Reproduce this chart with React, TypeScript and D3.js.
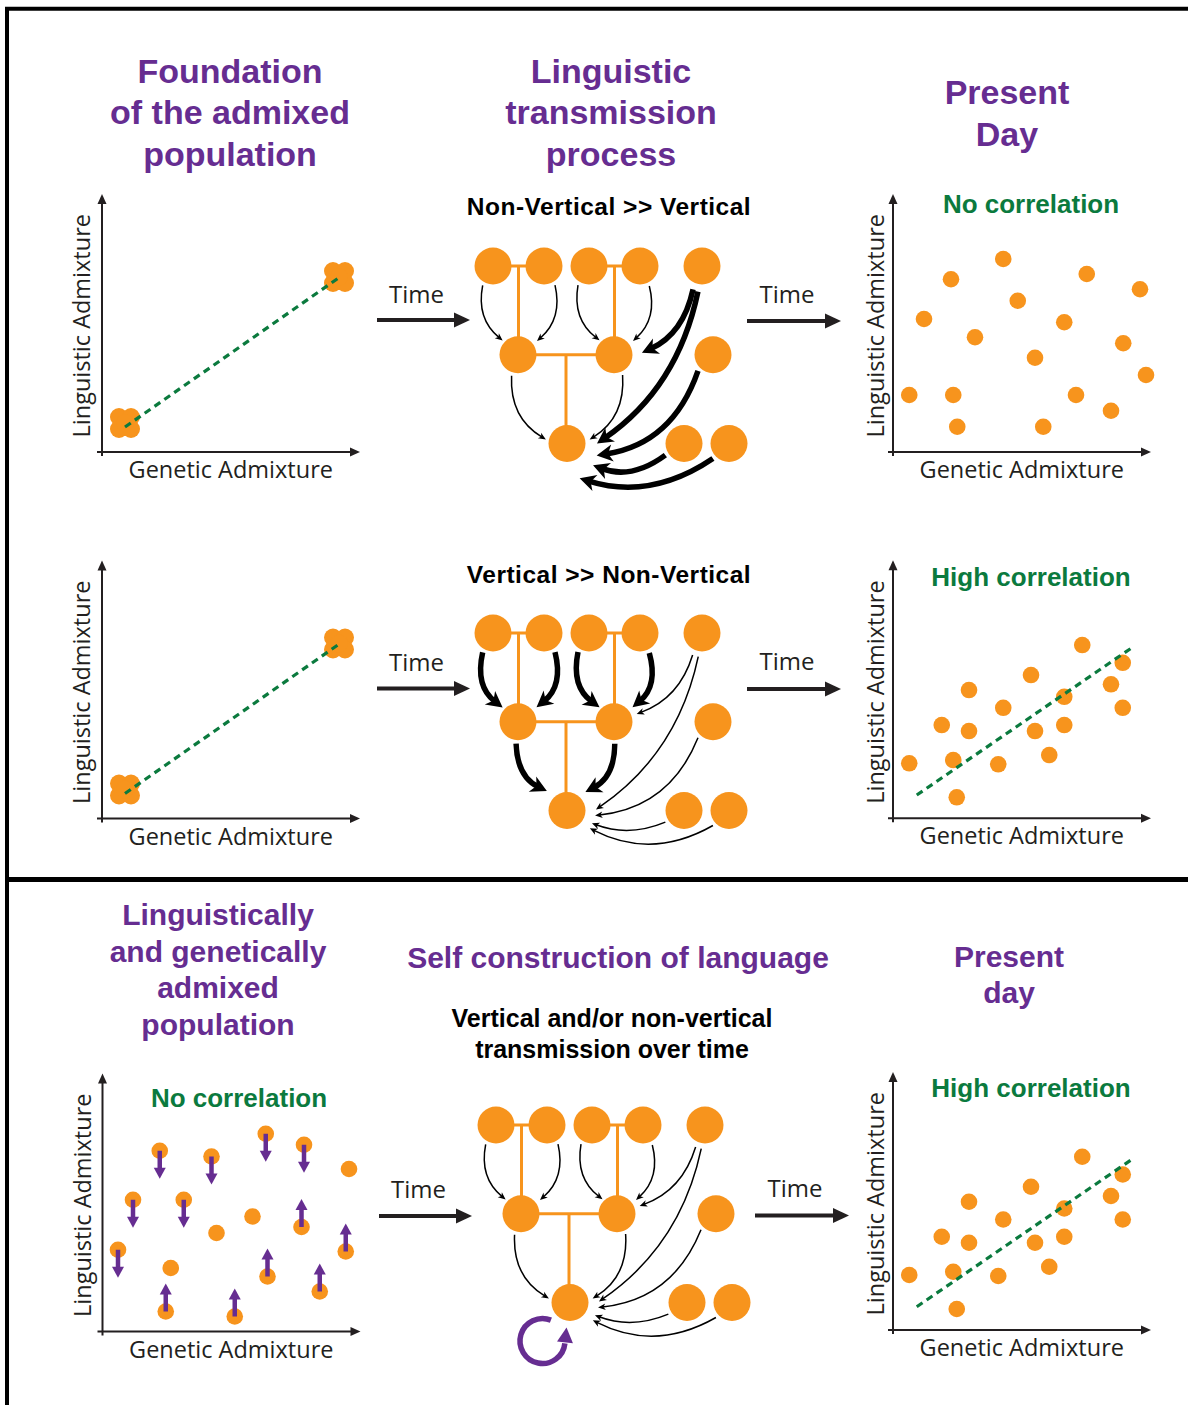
import * as d3 from "d3";

type Pt = { x: number; y: number };
type Shifted = Pt & { shift: number };
type Link = { s: string; t: string; sa: number; ta: number; td: number; bend: number; sd?: number };
type TreeNode = { id: string; gen: number; pos: number };

const ORANGE = "#f7941d";
const PURPLE = "#662d91";
const GREEN = "#0b7a3e";
const INK = "#231f20";
const BOLD = "'Liberation Sans', Arial, Helvetica, sans-serif";
const REG = "'Open Sans', 'Noto Sans', sans-serif";

// ---- scatter data (axis units 0-100) ----
const foundationDots: Pt[] = [
  { x: 6.8, y: 14 }, { x: 11.6, y: 14 }, { x: 6.8, y: 9.2 }, { x: 11.6, y: 9.2 }, { x: 9.2, y: 11.6 },
  { x: 92.4, y: 72.4 }, { x: 97.2, y: 72.4 }, { x: 92.4, y: 67.6 }, { x: 97.2, y: 67.6 }, { x: 94.8, y: 70 },
];
const foundationTrend: Pt[] = [{ x: 9.2, y: 10 }, { x: 95.2, y: 70 }];

const noCorrDots: Pt[] = [
  { x: 6.5, y: 22.8 }, { x: 12.4, y: 53.2 }, { x: 23.2, y: 69.1 }, { x: 24.1, y: 22.8 },
  { x: 25.7, y: 10.1 }, { x: 32.8, y: 45.9 }, { x: 44.1, y: 77.2 }, { x: 49.9, y: 60.5 },
  { x: 56.8, y: 37.7 }, { x: 60.1, y: 10.1 }, { x: 68.5, y: 51.9 }, { x: 73.2, y: 22.8 },
  { x: 77.5, y: 71.2 }, { x: 87.2, y: 16.5 }, { x: 92.1, y: 43.5 }, { x: 98.8, y: 65.1 },
  { x: 101.2, y: 30.8 },
];

const highCorrDots: Pt[] = [
  { x: 6.5, y: 22 }, { x: 19.5, y: 37.3 }, { x: 24.1, y: 23.3 }, { x: 25.5, y: 8.4 },
  { x: 30.4, y: 51.3 }, { x: 30.4, y: 34.9 }, { x: 42.1, y: 21.6 }, { x: 44.1, y: 44.2 },
  { x: 55.2, y: 57.3 }, { x: 56.8, y: 34.9 }, { x: 62.5, y: 25.3 }, { x: 68.5, y: 48.6 },
  { x: 68.5, y: 37.3 }, { x: 75.7, y: 69.3 }, { x: 87.2, y: 53.6 }, { x: 91.9, y: 62.2 },
  { x: 91.9, y: 44.2 },
];
const highTrend: Pt[] = [{ x: 9.5, y: 9.3 }, { x: 95.5, y: 68.2 }];

// shift: -1 moves down, +1 moves up, 0 stays
const selfDots: Shifted[] = [
  { x: 6.2, y: 32.7, shift: -1 }, { x: 12.2, y: 52.7, shift: -1 }, { x: 22.9, y: 72.3, shift: -1 },
  { x: 27.3, y: 25.4, shift: 0 }, { x: 25.3, y: 8, shift: 1 }, { x: 32.5, y: 52.7, shift: -1 },
  { x: 43.6, y: 70, shift: -1 }, { x: 45.6, y: 39.4, shift: 0 }, { x: 52.9, y: 6, shift: 1 },
  { x: 60, y: 46, shift: 0 }, { x: 65.3, y: 79.1, shift: -1 }, { x: 66, y: 22, shift: 1 },
  { x: 79.6, y: 41.8, shift: 1 }, { x: 80.6, y: 74.7, shift: -1 }, { x: 86.9, y: 16, shift: 1 },
  { x: 97.3, y: 32, shift: 1 }, { x: 98.6, y: 65, shift: 0 },
];
const SHIFT = 11.2;

// ---- tree data ----
const treeNodes: TreeNode[] = [
  { id: "p1", gen: 0, pos: 0 }, { id: "p2", gen: 0, pos: 51 }, { id: "p3", gen: 0, pos: 96 },
  { id: "p4", gen: 0, pos: 147 }, { id: "p5", gen: 0, pos: 209 },
  { id: "c1", gen: 1, pos: 25 }, { id: "c2", gen: 1, pos: 121 }, { id: "c3", gen: 1, pos: 220 },
  { id: "g1", gen: 2, pos: 74 }, { id: "g2", gen: 2, pos: 191 }, { id: "g3", gen: 2, pos: 236 },
];
const families = [
  { parents: ["p1", "p2"], child: "c1" },
  { parents: ["p3", "p4"], child: "c2" },
  { parents: ["c1", "c2"], child: "g1" },
];

const verticalLinks: Link[] = [
  { s: "p1", t: "c1", sa: 118, ta: 223, td: 21, bend: 0.3 },
  { s: "p2", t: "c1", sa: 60, ta: -36, td: 23.5, bend: -0.3 },
  { s: "p3", t: "c2", sa: 120, ta: 225, td: 20.5, bend: 0.3 },
  { s: "p4", t: "c2", sa: 65, ta: -36, td: 23.5, bend: -0.3 },
  { s: "c1", t: "g1", sa: 107, ta: 191, td: 21.5, bend: 0.3 },
  { s: "c2", t: "g1", sa: 67, ta: -10, td: 23, bend: -0.3 },
];
const verticalLinksStrong: Link[] = [
  { s: "p1", t: "c1", sa: 118, ta: 223, td: 21, bend: 0.32 },
  { s: "p2", t: "c1", sa: 60, ta: -38, td: 23.5, bend: -0.32 },
  { s: "p3", t: "c2", sa: 120, ta: 225, td: 20.5, bend: 0.32 },
  { s: "p4", t: "c2", sa: 65, ta: -38, td: 23.5, bend: -0.32 },
  { s: "c1", t: "g1", sa: 95, ta: 224, td: 28, bend: 0.3 },
  { s: "c2", t: "g1", sa: 88, ta: -45, td: 26, bend: -0.3 },
];
const nonVerticalLinks: Link[] = [
  { s: "p5", t: "c2", sa: 113, sd: 24, ta: -19, td: 24, bend: -0.25 },
  { s: "p5", t: "g1", sa: 99, sd: 24, ta: -2, td: 29, bend: -0.2 },
  { s: "c3", t: "g1", sa: 133, ta: 10, td: 28.5, bend: -0.3 },
  { s: "g2", t: "g1", sa: 148, ta: 27, td: 28, bend: -0.2 },
  { s: "g3", t: "g1", sa: 137, ta: 38, td: 29, bend: -0.27 },
];
const nonVerticalLinksStrong: Link[] = [
  { s: "p5", t: "c2", sa: 111, sd: 25, ta: -4, td: 28, bend: -0.25 },
  { s: "p5", t: "g1", sa: 99, sd: 26, ta: 0, td: 30, bend: -0.2 },
  { s: "c3", t: "g1", sa: 133, ta: 22, td: 32, bend: -0.3 },
  { s: "g2", t: "g1", sa: 148, ta: 40, td: 34, bend: -0.27 },
  { s: "g3", t: "g1", sa: 137, ta: 70, td: 37, bend: -0.24 },
];

const NODE_R = 18.5;
const DEG = Math.PI / 180;

function LinkArrow({ l, xy, thick }: { l: Link; xy: Record<string, [number, number]>; thick: boolean }) {
  const s = xy[l.s];
  const t = xy[l.t];
  const sd = l.sd ?? 22;
  const p0 = [s[0] + sd * Math.cos(l.sa * DEG), s[1] + sd * Math.sin(l.sa * DEG)];
  const p2 = [t[0] + l.td * Math.cos(l.ta * DEG), t[1] + l.td * Math.sin(l.ta * DEG)];
  const dx = p2[0] - p0[0];
  const dy = p2[1] - p0[1];
  const c = [(p0[0] + p2[0]) / 2 - dy * l.bend, (p0[1] + p2[1]) / 2 + dx * l.bend];
  let ux = p2[0] - c[0];
  let uy = p2[1] - c[1];
  const ul = Math.hypot(ux, uy);
  ux /= ul;
  uy /= ul;
  const hl = thick ? 16 : 7.5;
  const hw = thick ? 17 : 6.5;
  const end = [p2[0] - ux * hl * 0.6, p2[1] - uy * hl * 0.6];
  const path = d3.path();
  path.moveTo(p0[0], p0[1]);
  path.quadraticCurveTo(c[0], c[1], end[0], end[1]);
  const bx = p2[0] - ux * hl;
  const by = p2[1] - uy * hl;
  const px = -uy;
  const py = ux;
  const head = [
    [p2[0], p2[1]],
    [bx + (px * hw) / 2, by + (py * hw) / 2],
    [p2[0] - ux * hl * 0.72, p2[1] - uy * hl * 0.72],
    [bx - (px * hw) / 2, by - (py * hw) / 2],
  ];
  return (
    <g>
      <path d={path.toString()} fill="none" stroke="#000" strokeWidth={thick ? 5.5 : 1.5} />
      <polygon points={head.map((p) => p.join(",")).join(" ")} fill="#000" />
    </g>
  );
}

function Tree({ x0, y0, links, loop }: { x0: number; y0: number; links: { l: Link; thick: boolean }[]; loop?: boolean }) {
  const x = d3.scaleLinear().domain([0, 236]).range([x0, x0 + 236]);
  const y = d3.scaleLinear().domain([0, 2]).range([y0, y0 + 177.5]);
  const xy: Record<string, [number, number]> = {};
  treeNodes.forEach((n) => (xy[n.id] = [x(n.pos), y(n.gen)]));

  let loopEl = null;
  if (loop) {
    const g = xy["g1"];
    const cx = g[0] - 27.5;
    const cy = g[1] + 38.5;
    const r = 22.5;
    const a0 = -68 * DEG;
    const a1 = -354 * DEG;
    const p = d3.path();
    p.arc(cx, cy, r, a0, a1, true);
    const ex = cx + r * Math.cos(a1);
    const ey = cy + r * Math.sin(a1);
    const ux = Math.sin(a1);
    const uy = -Math.cos(a1);
    const tipX = ex + ux * 16;
    const tipY = ey + uy * 16;
    const bx = ex + ux * 1;
    const by = ey + uy * 1;
    loopEl = (
      <g>
        <path d={p.toString()} fill="none" stroke={PURPLE} strokeWidth={5.5} />
        <polygon
          points={`${tipX},${tipY} ${bx - uy * 8},${by + ux * 8} ${bx + uy * 8},${by - ux * 8}`}
          fill={PURPLE}
        />
      </g>
    );
  }

  return (
    <g>
      {families.map((f, i) => {
        const a = xy[f.parents[0]];
        const b = xy[f.parents[1]];
        const ch = xy[f.child];
        const mx = (a[0] + b[0]) / 2;
        return (
          <g key={i} stroke={ORANGE} strokeWidth={3} fill="none">
            <line x1={a[0]} y1={a[1]} x2={b[0]} y2={b[1]} />
            <line x1={mx} y1={a[1]} x2={mx} y2={ch[1]} />
          </g>
        );
      })}
      {links.map((d, i) => (
        <LinkArrow key={i} l={d.l} xy={xy} thick={d.thick} />
      ))}
      {treeNodes.map((n) => (
        <circle key={n.id} cx={xy[n.id][0]} cy={xy[n.id][1]} r={NODE_R} fill={ORANGE} />
      ))}
      {loopEl}
    </g>
  );
}

function Scatter({
  ox,
  oy,
  dots,
  r,
  trend,
  shifted,
  labelDx,
}: {
  ox: number;
  oy: number;
  dots: Pt[];
  r: number;
  trend?: Pt[];
  shifted?: Shifted[];
  labelDx: number;
}) {
  const x = d3.scaleLinear().domain([0, 100]).range([ox, ox + 250]);
  const y = d3.scaleLinear().domain([0, 100]).range([oy, oy - 250]);
  const top = y(103.2);
  const right = x(103.2);
  const line = d3
    .line<Pt>()
    .x((d) => x(d.x))
    .y((d) => y(d.y));
  return (
    <g>
      <line x1={ox} y1={oy + 4} x2={ox} y2={top + 8} stroke={INK} strokeWidth={2} />
      <polygon points={`${ox},${top} ${ox - 4.5},${top + 10} ${ox + 4.5},${top + 10}`} fill={INK} />
      <line x1={ox - 5} y1={oy} x2={right - 8} y2={oy} stroke={INK} strokeWidth={2} />
      <polygon points={`${right},${oy} ${right - 10},${oy - 4.5} ${right - 10},${oy + 4.5}`} fill={INK} />
      <text
        transform={`translate(${ox - labelDx},${y(50.5)}) rotate(-90)`}
        textAnchor="middle"
        fontFamily={REG}
        fontSize={23.5}
        fill={INK}
      >
        Linguistic Admixture
      </text>
      <text x={x(51.5)} y={oy + 26} textAnchor="middle" fontFamily={REG} fontSize={23.5} fill={INK}>
        Genetic Admixture
      </text>
      {dots.map((d, i) => (
        <circle key={i} cx={x(d.x)} cy={y(d.y)} r={r} fill={ORANGE} />
      ))}
      {shifted &&
        shifted.map((d, i) => {
          const cx = x(d.x);
          const cy = y(d.y);
          if (!d.shift) return <circle key={i} cx={cx} cy={cy} r={r} fill={ORANGE} />;
          const ty = y(d.y + d.shift * SHIFT);
          const dir = Math.sign(ty - cy);
          const by = ty - dir * 11;
          return (
            <g key={i}>
              <circle cx={cx} cy={cy} r={r} fill={ORANGE} />
              <line x1={cx} y1={cy} x2={cx} y2={by + dir * 2} stroke={PURPLE} strokeWidth={4.5} />
              <polygon points={`${cx},${ty} ${cx - 6},${by} ${cx + 6},${by}`} fill={PURPLE} />
            </g>
          );
        })}
      {trend && (
        <path d={line(trend) ?? ""} fill="none" stroke={GREEN} strokeWidth={3.2} strokeDasharray="7 5" />
      )}
    </g>
  );
}

function TimeArrow({ x1, x2, y, textY }: { x1: number; x2: number; y: number; textY: number }) {
  return (
    <g>
      <text x={(x1 + x2) / 2 - 7} y={textY} textAnchor="middle" fontFamily={REG} fontSize={24} fill={INK}>
        Time
      </text>
      <line x1={x1} y1={y} x2={x2 - 10} y2={y} stroke={INK} strokeWidth={4} />
      <polygon points={`${x2},${y} ${x2 - 16},${y - 7.5} ${x2 - 16},${y + 7.5}`} fill={INK} />
    </g>
  );
}

function Lines({
  lines,
  x,
  y,
  dy,
  size,
  fill,
}: {
  lines: string[];
  x: number;
  y: number;
  dy: number;
  size: number;
  fill: string;
}) {
  return (
    <g>
      {lines.map((t, i) => (
        <text
          key={i}
          x={x}
          y={y + i * dy}
          textAnchor="middle"
          fontFamily={BOLD}
          fontWeight="bold"
          fontSize={size}
          fill={fill}
        >
          {t}
        </text>
      ))}
    </g>
  );
}

export default function App() {
  const thin = (ls: Link[]) => ls.map((l) => ({ l, thick: false }));
  const bold = (ls: Link[]) => ls.map((l) => ({ l, thick: true }));
  return (
    <svg
      width={1188}
      height={1405}
      viewBox="0 0 1188 1405"
      style={{ position: "absolute", left: 0, top: 0, background: "#fff" }}
    >
      <rect width={1188} height={1405} fill="#fff" />
      {/* frame */}
      <line x1={7} y1={7} x2={7} y2={1405} stroke="#000" strokeWidth={4} />
      <line x1={5} y1={8.7} x2={1188} y2={8.7} stroke="#000" strokeWidth={4} />
      <line x1={5} y1={879.5} x2={1188} y2={879.5} stroke="#000" strokeWidth={5} />

      {/* titles */}
      <Lines lines={["Foundation", "of the admixed", "population"]} x={230} y={82.5} dy={41.5} size={34} fill={PURPLE} />
      <Lines lines={["Linguistic", "transmission", "process"]} x={611} y={82.5} dy={41.5} size={34} fill={PURPLE} />
      <Lines lines={["Present", "Day"]} x={1007} y={104} dy={42} size={34} fill={PURPLE} />

      {/* row 1 */}
      <Scatter ox={102} oy={452} dots={foundationDots} r={9} trend={foundationTrend} labelDx={12} />
      <TimeArrow x1={377} x2={470} y={320} textY={303} />
      <text x={609} y={215} textAnchor="middle" fontFamily={BOLD} fontWeight="bold" fontSize={24.5} letterSpacing={0.5} fill="#000">
        {"Non-Vertical >> Vertical"}
      </text>
      <Tree x0={493} y0={266} links={[...thin(verticalLinks), ...bold(nonVerticalLinksStrong)]} />
      <TimeArrow x1={747} x2={841} y={321} textY={303} />
      <Scatter ox={893} oy={452} dots={noCorrDots} r={8.3} labelDx={9} />
      <Lines lines={["No correlation"]} x={1031} y={213} dy={0} size={26} fill={GREEN} />

      {/* row 2 */}
      <Scatter ox={102} oy={818.5} dots={foundationDots} r={9} trend={foundationTrend} labelDx={12} />
      <TimeArrow x1={377} x2={470} y={688.5} textY={671} />
      <text x={609} y={583} textAnchor="middle" fontFamily={BOLD} fontWeight="bold" fontSize={24.5} letterSpacing={0.5} fill="#000">
        {"Vertical >> Non-Vertical"}
      </text>
      <Tree x0={493} y0={633} links={[...bold(verticalLinksStrong), ...thin(nonVerticalLinks)]} />
      <TimeArrow x1={747} x2={841} y={689} textY={670} />
      <Scatter ox={893} oy={818.3} dots={highCorrDots} r={8.3} trend={highTrend} labelDx={9} />
      <Lines lines={["High correlation"]} x={1031} y={586} dy={0} size={26} fill={GREEN} />

      {/* row 3 */}
      <Lines
        lines={["Linguistically", "and genetically", "admixed", "population"]}
        x={218}
        y={925}
        dy={36.7}
        size={30}
        fill={PURPLE}
      />
      <Lines lines={["Self construction of language"]} x={618} y={968} dy={0} size={30} fill={PURPLE} />
      <Lines
        lines={["Vertical and/or non-vertical", "transmission over time"]}
        x={612}
        y={1027}
        dy={31}
        size={25}
        fill="#000"
      />
      <Lines lines={["Present", "day"]} x={1009} y={967} dy={36} size={30} fill={PURPLE} />

      <Scatter ox={102.5} oy={1331.5} dots={[]} r={8.3} shifted={selfDots} labelDx={12} />
      <Lines lines={["No correlation"]} x={239} y={1106.5} dy={0} size={26} fill={GREEN} />
      <TimeArrow x1={379} x2={472} y={1216} textY={1198} />
      <Tree x0={496} y0={1125} links={[...thin(verticalLinks), ...thin(nonVerticalLinks)]} loop />
      <TimeArrow x1={755} x2={849} y={1215.5} textY={1197} />
      <Scatter ox={893} oy={1330} dots={highCorrDots} r={8.3} trend={highTrend} labelDx={9} />
      <Lines lines={["High correlation"]} x={1031} y={1097} dy={0} size={26} fill={GREEN} />
    </svg>
  );
}
